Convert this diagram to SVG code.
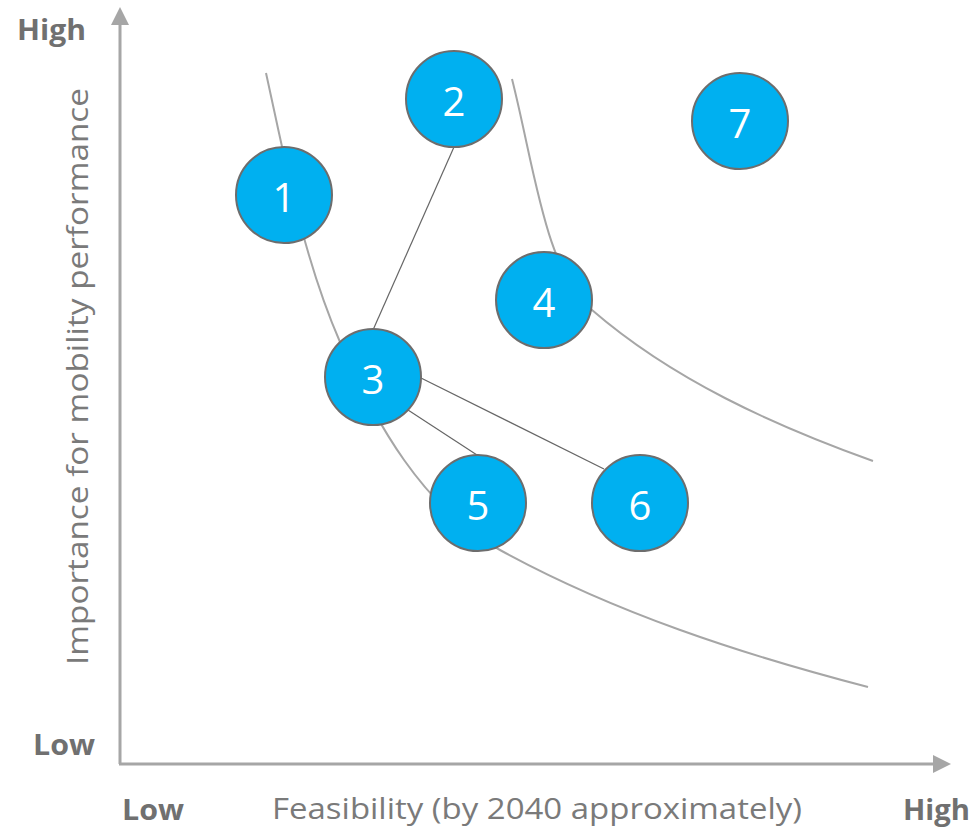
<svg xmlns="http://www.w3.org/2000/svg" width="980" height="830" viewBox="0 0 980 830">
  <style>
    .axis { stroke: #a6a6a6; stroke-width: 3; fill: none; }
    .curve { stroke: #a6a6a6; stroke-width: 2; fill: none; }
    .link { stroke: #666666; stroke-width: 1.2; fill: none; }
    .bubble { fill: #00b0f0; stroke: #6d6d6d; stroke-width: 2; }
    .num { fill: #ffffff; font-family: "Open Sans", "Noto Sans", sans-serif; font-size: 40px; text-anchor: middle; }
    .tick { fill: #707070; font-family: "Open Sans", "Liberation Sans", sans-serif; font-size: 28px; font-weight: bold; }
    .title { fill: #7a7a7a; font-family: "Open Sans", "Liberation Sans", sans-serif; font-size: 30px; }
  </style>
  <defs>
    <marker id="arrow" markerWidth="6" markerHeight="6" refX="0" refY="3" orient="auto" markerUnits="strokeWidth">
      <path d="M0,0 L6,3 L0,6 Z" fill="#a6a6a6"/>
    </marker>
  </defs>

  <rect width="980" height="830" fill="#ffffff"/>

  <!-- axes -->
  <g id="axes">
    <path class="axis" d="M120,764 L120,25" marker-end="url(#arrow)"/>
    <path class="axis" d="M119,764 L933,764" marker-end="url(#arrow)"/>
  </g>

  <!-- axis labels -->
  <g id="labels">
    <text class="tick" x="17" y="40" textLength="69" lengthAdjust="spacingAndGlyphs">High</text>
    <text class="tick" x="33" y="755" textLength="62" lengthAdjust="spacingAndGlyphs">Low</text>
    <text class="tick" x="122" y="820" textLength="62" lengthAdjust="spacingAndGlyphs">Low</text>
    <text class="tick" x="903" y="820" textLength="67" lengthAdjust="spacingAndGlyphs">High</text>
    <text class="title" transform="translate(88,665) rotate(-90)" textLength="577" lengthAdjust="spacingAndGlyphs">Importance for mobility performance</text>
    <text class="title" x="272" y="819" textLength="530" lengthAdjust="spacingAndGlyphs">Feasibility (by 2040 approximately)</text>
  </g>

  <!-- frontier curves and links between bubbles -->
  <g id="connectors">
    <path class="curve" d="M266,73 C286,164 303,257 340,342 C375,422 423,508 500,550 C615,613 741,654 868,687"/>
    <path class="curve" d="M512,79 C535,170 545,270 592,310 C673,380 773,425 873,461"/>
    <line class="link" x1="454" y1="147" x2="373" y2="330"/>
    <line class="link" x1="421" y1="378" x2="604" y2="469"/>
    <line class="link" x1="408" y1="410" x2="477" y2="455"/>
  </g>

  <g id="node-1"><circle class="bubble" cx="284" cy="195" r="48"/><text class="num" x="284" y="212">1</text></g>
  <g id="node-2"><circle class="bubble" cx="454" cy="99" r="48"/><text class="num" x="454" y="116">2</text></g>
  <g id="node-3"><circle class="bubble" cx="373" cy="377" r="48"/><text class="num" x="373" y="394">3</text></g>
  <g id="node-4"><circle class="bubble" cx="544" cy="300" r="48"/><text class="num" x="544" y="317">4</text></g>
  <g id="node-5"><circle class="bubble" cx="478" cy="503" r="48"/><text class="num" x="478" y="520">5</text></g>
  <g id="node-6"><circle class="bubble" cx="640" cy="503" r="48"/><text class="num" x="640" y="520">6</text></g>
  <g id="node-7"><circle class="bubble" cx="740" cy="121" r="48"/><text class="num" x="740" y="138">7</text></g>
</svg>
